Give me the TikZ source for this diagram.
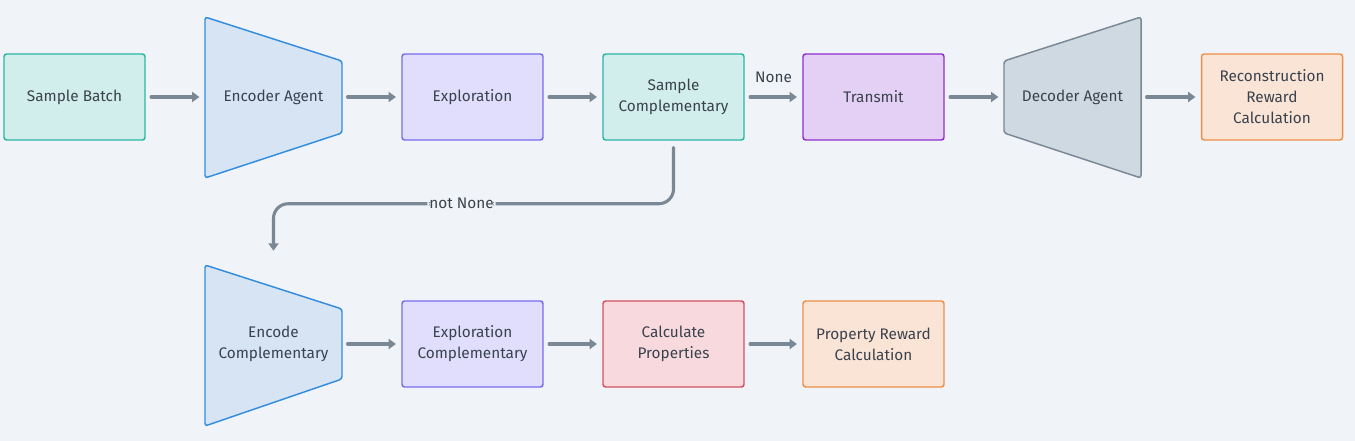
\documentclass[tikz,border=0pt]{standalone}
\usepackage{fontspec}
\setmainfont{Fira Sans}
\usetikzlibrary{arrows.meta}

\definecolor{bgcol}{RGB}{240,243,247}
\definecolor{txtcol}{RGB}{58,66,78}
\definecolor{arrcol}{RGB}{122,135,148}
\definecolor{tealfill}{RGB}{210,238,236}
\definecolor{tealline}{RGB}{42,183,164}
\definecolor{bluefill}{RGB}{214,228,244}
\definecolor{blueline}{RGB}{52,141,221}
\definecolor{lilacfill}{RGB}{224,222,252}
\definecolor{lilacline}{RGB}{122,108,240}
\definecolor{purplefill}{RGB}{228,208,244}
\definecolor{purpleline}{RGB}{142,48,206}
\definecolor{grayfill}{RGB}{206,217,226}
\definecolor{grayline}{RGB}{122,135,148}
\definecolor{orangefill}{RGB}{250,228,214}
\definecolor{orangeline}{RGB}{238,142,72}
\definecolor{redfill}{RGB}{248,218,222}
\definecolor{redline}{RGB}{214,80,98}

\tikzset{
	box/.style={draw, line width=1.1pt, rounded corners=2pt, minimum width=105.75pt, minimum height=64.5pt,
		align=center, text=txtcol, font=\fontsize{11.5}{15.75}\selectfont},
	agent/.style={minimum width=102.75pt, minimum height=121.5pt, align=center, text=txtcol,
		font=\fontsize{11.5}{15.75}\selectfont},
	trap/.style={line width=1.1pt, rounded corners=2pt},
	conn/.style={draw=arrcol, line width=2.3pt, line cap=round, -{Triangle[length=5.5pt,width=7.5pt]},
		shorten <=4pt, shorten >=4pt},
	edgelabel/.style={text=txtcol, font=\fontsize{11.5}{13}\selectfont, inner sep=1.5pt}
}

\begin{document}
\begin{tikzpicture}[x=0.75pt, y=-0.75pt]
			\fill[bgcol] (0,0) rectangle (1355,441);
			
			% agents drawn as trapezoids
			\filldraw[trap, fill=bluefill, draw=blueline] (205,17) -- (342,61) -- (342,133) -- (205,178) -- cycle;
			\filldraw[trap, fill=grayfill, draw=grayline] (1004,61) -- (1141,17) -- (1141,178) -- (1004,133) -- cycle;
			\filldraw[trap, fill=bluefill, draw=blueline] (205,265) -- (342,309) -- (342,379) -- (205,426) -- cycle;
			
			% top row
			\node[box, fill=tealfill, draw=tealline] (batch) at (74.5,97) {Sample Batch};
			\node[agent] (enc) at (273.5,97) {Encoder Agent};
			\node[box, fill=lilacfill, draw=lilacline] (expl) at (472.5,97) {Exploration};
			\node[box, fill=tealfill, draw=tealline] (samp) at (673.5,97) {Sample\\Complementary};
			\node[box, fill=purplefill, draw=purpleline] (trans) at (873.5,97) {Transmit};
			\node[agent] (dec) at (1072.5,97) {Decoder Agent};
			\node[box, fill=orangefill, draw=orangeline] (recon) at (1272,97) {Reconstruction\\Reward\\Calculation};
			
			% bottom row
			\node[agent] (encc) at (273.5,344) {Encode\\Complementary};
			\node[box, fill=lilacfill, draw=lilacline] (explc) at (472.5,344) {Exploration\\Complementary};
			\node[box, fill=redfill, draw=redline] (calc) at (673.5,344) {Calculate\\Properties};
			\node[box, fill=orangefill, draw=orangeline] (prop) at (873.5,344) {Property Reward\\Calculation};
			
			% connectors
			\draw[conn] (batch) -- (enc);
			\draw[conn] (enc) -- (expl);
			\draw[conn] (expl) -- (samp);
			\draw[conn] (samp) -- node[edgelabel, yshift=15pt] {None} (trans);
			\draw[conn] (trans) -- (dec);
			\draw[conn] (dec) -- (recon);
			\draw[conn, rounded corners=11pt, shorten <=5pt, shorten >=9pt] (samp.south) -- ++(0,63)
				-| node[pos=0.265, edgelabel, fill=bgcol] {not None} (encc.north);
			\draw[conn] (encc) -- (explc);
			\draw[conn] (explc) -- (calc);
			\draw[conn] (calc) -- (prop);
		\end{tikzpicture}
\end{document}
